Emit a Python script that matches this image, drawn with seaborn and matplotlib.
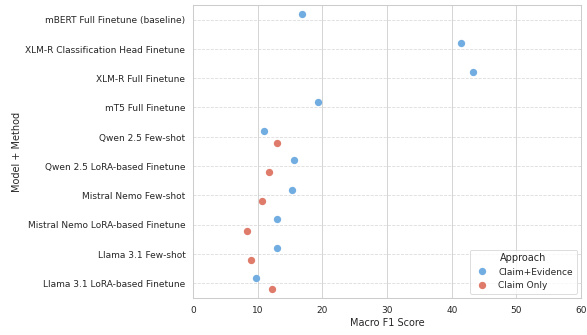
import numpy as np
import pandas as pd
import seaborn as sns
import matplotlib.pyplot as plt

models = [
    'mBERT Full Finetune (baseline)',
    'XLM-R Classification Head Finetune',
    'XLM-R Full Finetune',
    'mT5 Full Finetune',
    'Qwen 2.5 Few-shot',
    'Qwen 2.5 LoRA-based Finetune',
    'Mistral Nemo Few-shot',
    'Mistral Nemo LoRA-based Finetune',
    'Llama 3.1 Few-shot',
    'Llama 3.1 LoRA-based Finetune',
]
claim_evidence = [16.8, 41.4, 43.3, 19.3, 11.0, 15.6, 15.3, 13.0, 13.0, 9.7]
claim_only = [None, None, None, None, 13.0, 11.8, 10.7, 8.3, 8.9, 12.2]
approaches = ['Claim+Evidence', 'Claim Only']

rows = []
for m, a, b in zip(models, claim_evidence, claim_only):
    rows.append({'Model + Method': m, 'Approach': 'Claim+Evidence', 'Macro F1 Score': a})
    if b is not None:
        rows.append({'Model + Method': m, 'Approach': 'Claim Only', 'Macro F1 Score': b})
df = pd.DataFrame(rows)

sns.set_theme(style='whitegrid')
fig, ax = plt.subplots(figsize=(10, 5.71), dpi=58.7)
sns.stripplot(data=df, x='Macro F1 Score', y='Model + Method', hue='Approach',
              hue_order=approaches, order=models, dodge=True, jitter=False,
              palette=['#72ade2', '#df7b6b'], size=9, ax=ax)
ax.set_xlim(0, 60)
ax.yaxis.grid(True, linestyle='--', alpha=0.7)
ax.legend(title='Approach', loc='lower right')
fig.subplots_adjust(left=0.329, right=0.99, top=0.985, bottom=0.11)
fig.savefig('out.png')
